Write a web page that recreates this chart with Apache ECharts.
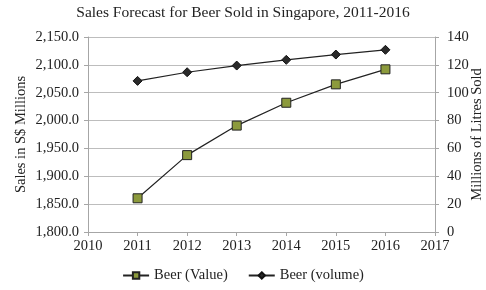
<!DOCTYPE html>
<html>
<head>
<meta charset="utf-8">
<script src="https://cdn.jsdelivr.net/npm/echarts@6/dist/echarts.min.js"></script>
<style>
  html, body { margin: 0; padding: 0; background: #fff; }
  #chart { width: 486px; height: 290px; }
</style>
</head>
<body>
<div id="chart"></div>
<script>
const years = [2011, 2012, 2013, 2014, 2015, 2016];
const beerValue = [1860.5, 1938, 1991, 2032, 2065, 2092];
const beerVolume = [108.5, 114.7, 119.5, 123.6, 127.4, 130.8];

const font = "Liberation Serif";
const chart = echarts.init(document.getElementById("chart"));

function withCommas(v) {
  const s = v.toFixed(1);
  const parts = s.split(".");
  parts[0] = parts[0].replace(/\B(?=(\d{3})+(?!\d))/g, ",");
  return parts.join(".");
}

const axisLine = { show: true, lineStyle: { color: "#a6a6a6" } };
const axisTick = { show: true, length: 4, lineStyle: { color: "#a6a6a6" } };

chart.setOption({
  animation: false,
  textStyle: { fontFamily: font, color: "#222" },
  title: {
    text: "Sales Forecast for Beer Sold in Singapore, 2011-2016",
    left: "center",
    top: 0,
    textStyle: { fontFamily: font, fontSize: 15.5, fontWeight: "normal", color: "#222" },
  },
  grid: { left: 88, right: 51, top: 37, bottom: 58, outerBoundsMode: "none" },
  legend: {
    bottom: 2,
    itemWidth: 26,
    itemHeight: 8,
    itemGap: 20,
    textStyle: { fontFamily: font, fontSize: 14.5, color: "#222" },
    data: ["Beer (Value)", "Beer (volume)"],
  },
  xAxis: {
    type: "value",
    min: 2010,
    max: 2017,
    interval: 1,
    splitLine: { show: false },
    axisLine: axisLine,
    axisTick: axisTick,
    axisLabel: {
      fontFamily: font, fontSize: 14.5, color: "#222", margin: 7,
      formatter: (v) => String(v),
    },
  },
  yAxis: [
    {
      type: "value",
      min: 1800,
      max: 2150,
      interval: 50,
      name: "Sales in S$ Millions",
      nameLocation: "middle",
      nameRotate: 90,
      nameGap: 59,
      nameMoveOverlap: false,
      nameTextStyle: { fontFamily: font, fontSize: 14.5, color: "#222" },
      axisLine: axisLine,
      axisTick: axisTick,
      splitLine: { lineStyle: { color: "#bdbdbd" } },
      axisLabel: {
        fontFamily: font, fontSize: 14.5, color: "#222", margin: 9,
        formatter: withCommas,
      },
    },
    {
      type: "value",
      min: 0,
      max: 140,
      interval: 20,
      name: "Millions of Litres Sold",
      nameLocation: "middle",
      nameRotate: 90,
      nameGap: 35,
      nameMoveOverlap: false,
      nameTextStyle: { fontFamily: font, fontSize: 14.5, color: "#222" },
      axisLine: axisLine,
      axisTick: axisTick,
      splitLine: { show: false },
      axisLabel: { fontFamily: font, fontSize: 14.5, color: "#222", margin: 12 },
    },
  ],
  series: [
    {
      name: "Beer (Value)",
      type: "line",
      yAxisIndex: 0,
      data: years.map((y, i) => [y, beerValue[i]]),
      symbol: "rect",
      symbolSize: 9,
      lineStyle: { color: "#222", width: 1.2 },
      itemStyle: { color: "#8c9a3c", borderColor: "#222", borderWidth: 1 },
    },
    {
      name: "Beer (volume)",
      type: "line",
      yAxisIndex: 1,
      data: years.map((y, i) => [y, beerVolume[i]]),
      symbol: "diamond",
      symbolSize: 9,
      lineStyle: { color: "#222", width: 1.2 },
      itemStyle: { color: "#2a2a2a", borderColor: "#111", borderWidth: 1 },
    },
  ],
});
</script>
</body>
</html>
